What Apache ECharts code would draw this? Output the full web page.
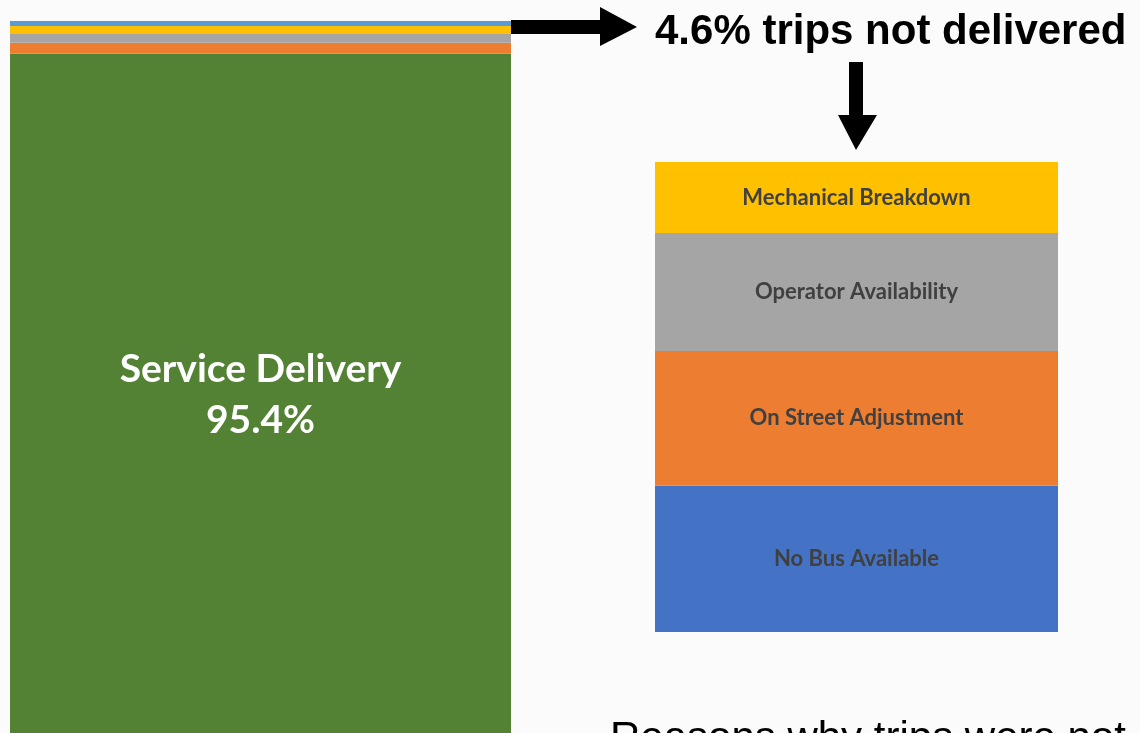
<!DOCTYPE html>
<html>
<head>
<meta charset="utf-8">
<script src="https://cdn.jsdelivr.net/npm/echarts@6/dist/echarts.min.js"></script>
<style>
html,body{margin:0;padding:0;background:#fbfbfb;}
#c{width:1140px;height:733px;}
</style>
</head>
<body>
<div id="c"></div>
<script>
// Left stacked bar (share of all trips, %), bottom to top
const overallNames = ['Service Delivery', 'On Street Adjustment', 'Operator Availability', 'Mechanical Breakdown', 'No Bus Available'];
const overallValues = [95.4, 1.53, 1.25, 1.12, 0.70];
const overallColors = ['#548235', '#ED7D31', '#A5A5A5', '#FFC000', '#5B9BD5'];

// Right stacked bar (share of trips not delivered, %), bottom to top
const reasonNames = ['No Bus Available', 'On Street Adjustment', 'Operator Availability', 'Mechanical Breakdown'];
const reasonValues = [31.1, 28.7, 25.1, 15.1];
const reasonColors = ['#4472C4', '#ED7D31', '#A5A5A5', '#FFC000'];

const notDeliveredTitle = '4.6% trips not delivered';
const footerText = 'Reasons why trips were not delivered';

const chart = echarts.init(document.getElementById('c'), null, {renderer: 'canvas'});

const series = [];
overallNames.forEach((n, i) => {
  series.push({
    name: n, type: 'bar', stack: 'overall', xAxisIndex: 0, yAxisIndex: 0,
    barWidth: '100%',
    data: [overallValues[i]],
    itemStyle: {color: overallColors[i]},
    label: i === 0 ? {
      show: true, position: 'inside',
      formatter: () => n + '\n' + overallValues[i].toFixed(1) + '%',
      color: '#ffffff', fontFamily: 'Lato', fontWeight: 'bold', fontSize: 39, lineHeight: 51,
      offset: [0, 2]
    } : {show: false},
    silent: true
  });
});
reasonNames.forEach((n, i) => {
  series.push({
    name: 'r_' + n, type: 'bar', stack: 'reasons', xAxisIndex: 1, yAxisIndex: 1,
    barWidth: '100%',
    data: [reasonValues[i]],
    itemStyle: {color: reasonColors[i]},
    label: {
      show: true, position: 'inside', formatter: n,
      color: '#404040', fontFamily: 'Lato', fontWeight: 'bold', fontSize: 22
    },
    silent: true
  });
});

chart.setOption({
  backgroundColor: '#fbfbfb',
  animation: false,
  grid: [
    {left: 10, top: 21, width: 501, height: 726},
    {left: 655, top: 162, width: 403, height: 470}
  ],
  xAxis: [
    {type: 'category', gridIndex: 0, data: ['all'], show: false},
    {type: 'category', gridIndex: 1, data: ['reasons'], show: false}
  ],
  yAxis: [
    {type: 'value', gridIndex: 0, min: 0, max: 100, show: false},
    {type: 'value', gridIndex: 1, min: 0, max: 100, show: false}
  ],
  series: series,
  graphic: [
    {type: 'polygon', shape: {points: [[511, 20], [600, 20], [600, 7], [637, 27], [600, 46], [600, 34], [511, 34]]}, style: {fill: '#000'}},
    {type: 'polygon', shape: {points: [[849, 62], [863, 62], [863, 115], [877, 115], [856, 150], [838, 115], [849, 115]]}, style: {fill: '#000'}},
    {type: 'text', left: 655, top: 11, style: {text: notDeliveredTitle, fill: '#000', font: 'bold 42px "Liberation Sans", Arial, sans-serif'}},
    {type: 'text', left: 610, top: 718, style: {text: footerText, fill: '#000', font: '42px "Liberation Sans", Arial, sans-serif'}}
  ]
});
</script>
</body>
</html>
